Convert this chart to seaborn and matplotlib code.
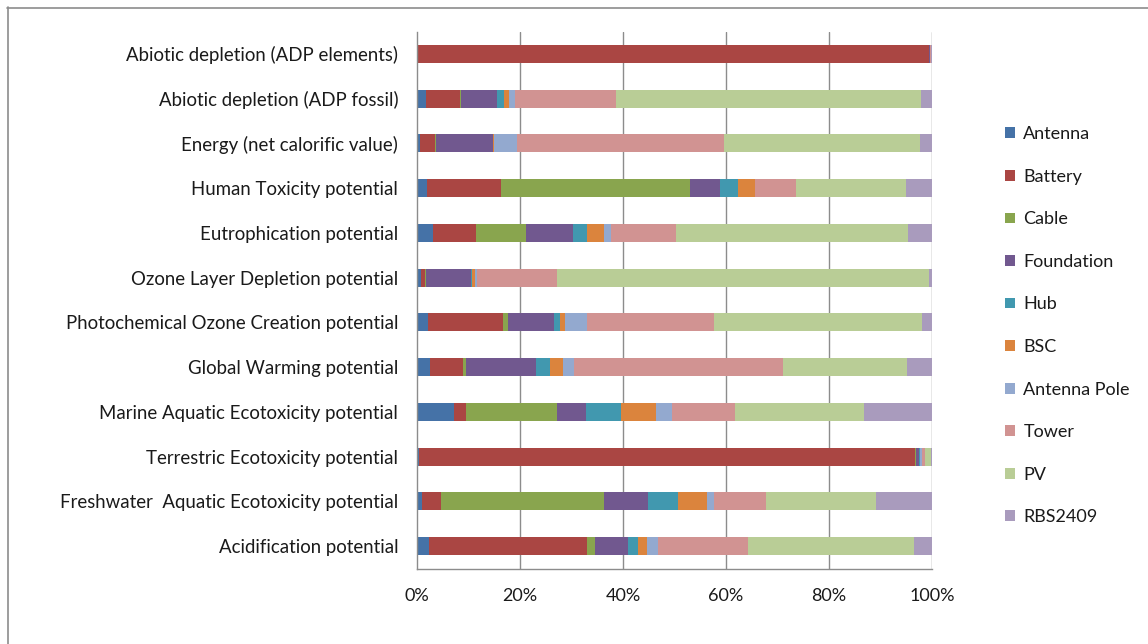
import numpy as np
import pandas as pd
import matplotlib
matplotlib.use("Agg")
import matplotlib.pyplot as plt
from matplotlib.lines import Line2D
from matplotlib.patches import Patch
from matplotlib.ticker import FixedLocator, PercentFormatter
import seaborn as sns

# Impact categories, top to bottom
categories = [
    "Abiotic depletion (ADP elements)",
    "Abiotic depletion (ADP fossil)",
    "Energy (net calorific value)",
    "Human Toxicity potential",
    "Eutrophication potential",
    "Ozone Layer Depletion potential",
    "Photochemical Ozone Creation potential",
    "Global Warming potential",
    "Marine Aquatic Ecotoxicity potential",
    "Terrestric Ecotoxicity potential",
    "Freshwater  Aquatic Ecotoxicity potential",
    "Acidification potential",
]

components = ["Antenna", "Battery", "Cable", "Foundation", "Hub", "BSC",
              "Antenna Pole", "Tower", "PV", "RBS2409"]

# Share (%) of each component per impact category
antenna      = [0.0, 1.8, 0.5, 1.9, 3.1, 0.7, 2.1, 2.6, 7.2, 0.3, 1.0, 2.3]
battery      = [99.5, 6.5, 2.9, 14.5, 8.4, 0.8, 14.6, 6.3, 2.3, 96.4, 3.6, 30.7]
cable        = [0.0, 0.3, 0.3, 36.6, 9.7, 0.3, 1.0, 0.6, 17.6, 0.2, 31.7, 1.6]
foundation   = [0.1, 6.9, 11.0, 5.8, 9.0, 8.7, 8.9, 13.7, 5.7, 0.6, 8.5, 6.3]
hub          = [0.0, 1.3, 0.1, 3.5, 2.8, 0.2, 1.1, 2.6, 6.9, 0.1, 5.8, 2.0]
bsc          = [0.0, 1.1, 0.1, 3.3, 3.4, 0.6, 1.0, 2.6, 6.8, 0.1, 5.8, 1.8]
antenna_pole = [0.0, 1.1, 4.5, 0.1, 1.3, 0.4, 4.3, 2.0, 3.0, 0.3, 1.3, 2.0]
tower        = [0.3, 19.6, 40.3, 7.8, 12.5, 15.4, 24.7, 40.6, 12.3, 0.7, 10.0, 17.5]
pv           = [0.0, 59.2, 37.9, 21.4, 45.1, 72.4, 40.4, 24.1, 25.0, 1.2, 21.4, 32.3]
rbs2409      = [0.1, 2.2, 2.4, 5.1, 4.7, 0.5, 1.9, 4.9, 13.2, 0.1, 10.9, 3.5]

colors = ["#4572A7", "#AA4643", "#89A54E", "#71588F", "#4198AF",
          "#DB843D", "#93A9CF", "#D19392", "#B9CD96", "#A99BBD"]

df = pd.DataFrame(
    np.array([antenna, battery, cable, foundation, hub, bsc,
              antenna_pole, tower, pv, rbs2409]).T,
    columns=components,
)
df["category"] = categories
# normalise each row to 100 %
df[components] = df[components].div(df[components].sum(axis=1), axis=0) * 100
cum = df[components].cumsum(axis=1)

sns.set_theme(style="white")
plt.rcParams["font.family"] = ["Lato", "DejaVu Sans"]

fig = plt.figure(figsize=(11.48, 6.44), dpi=100)
ax = fig.add_axes([417 / 1148, 1 - 568.5 / 644, 515 / 1148, (568.5 - 31.5) / 644])

grid_c = "#8C8C8C"
for v in [20, 40, 60, 80, 100]:
    ax.axvline(v, color=grid_c, lw=1.0, zorder=0)

# stacked bars: draw cumulative totals from the largest down
for comp, col in reversed(list(zip(components, colors))):
    sns.barplot(x=cum[comp], y=df["category"], color=col, width=0.4,
                orient="h", saturation=1, ax=ax, zorder=2, linewidth=0)

ax.set_xlim(0, 100)
ax.set_ylim(len(categories) - 0.5, -0.5)
ax.set_xlabel("")
ax.set_ylabel("")
ax.xaxis.set_major_locator(FixedLocator([0, 20, 40, 60, 80, 100]))
ax.xaxis.set_major_formatter(PercentFormatter(decimals=0))

for s in ["top", "right"]:
    ax.spines[s].set_visible(False)
for s in ["left", "bottom"]:
    ax.spines[s].set_color(grid_c)
    ax.spines[s].set_linewidth(1.0)

ax.tick_params(axis="x", which="major", length=5, width=1, color=grid_c,
               direction="out", labelsize=13, pad=9, labelcolor="#1a1a1a")
ax.tick_params(axis="y", which="major", length=0, labelsize=13.4, pad=13.5,
               labelcolor="#1a1a1a")
ax.yaxis.set_minor_locator(FixedLocator(np.arange(-0.5, len(categories), 1)))
ax.tick_params(axis="y", which="minor", length=5, width=1, color=grid_c,
               direction="out")

# legend
handles = [Patch(facecolor=c, edgecolor="none", label=n)
           for n, c in zip(components, colors)]
fig.legend(handles=handles, loc="upper left",
           bbox_to_anchor=(989 / 1148, 1 - 110 / 644), frameon=False,
           fontsize=13, handlelength=0.55, handleheight=0.55, handletextpad=0.45,
           labelspacing=1.47, labelcolor="#1a1a1a")

# chart frame
fig.add_artist(Line2D([7 / 1148, 1], [1 - 7.5 / 644, 1 - 7.5 / 644],
                      color="#8C8C8C", lw=1.2, transform=fig.transFigure))
fig.add_artist(Line2D([7.5 / 1148, 7.5 / 1148], [0, 1 - 7 / 644],
                      color="#8C8C8C", lw=1.2, transform=fig.transFigure))

fig.savefig("out.png", dpi=100, facecolor="white")
